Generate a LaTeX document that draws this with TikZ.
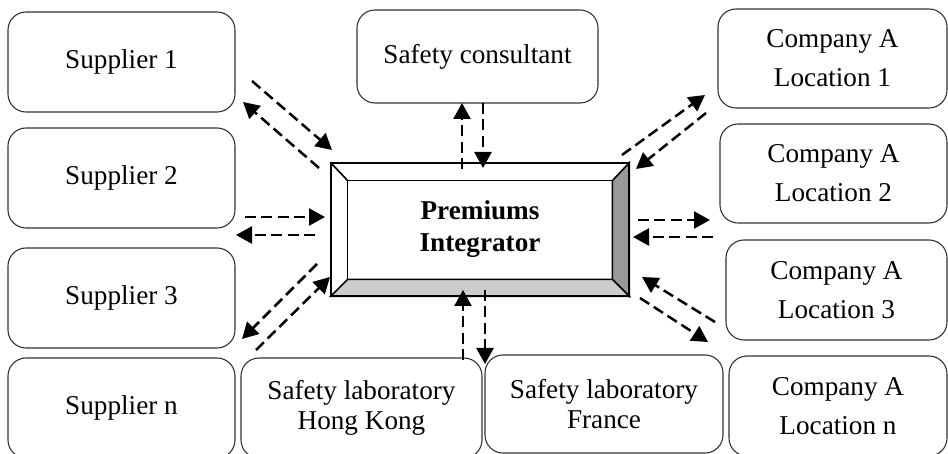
\documentclass[tikz,border=0pt]{standalone}
\usepackage{fontspec}
\setmainfont{Liberation Serif}
\usetikzlibrary{arrows.meta}
\definecolor{bevelright}{HTML}{999999}
\definecolor{bevelbottom}{HTML}{CCCCCC}
\begin{document}
\begin{tikzpicture}[x=0.5pt,y=-0.5pt]

    \tikzset{
      party/.style={
        draw=black!80,
        line width=0.55pt,
        rounded corners=9pt,
        align=center,
        inner sep=0pt,
        font=\fontsize{13.6}{15}\selectfont,
      },
      flow/.style={
        color={black},
        line width=1.25pt,
        dash pattern=on 5.5pt off 2.7pt,
        -{Triangle[length=8pt,width=8.5pt]},
      },
    }
    \useasboundingbox (0,0) rectangle (948,454);
    \clip (0,0) rectangle (948,454);

	\node[party,minimum width=113.5pt,minimum height=50pt] (sup1) at (121.5,62) {Supplier 1};
	\node[party,minimum width=113.5pt,minimum height=50pt] (sup2) at (121.5,178) {Supplier 2};
	\node[party,minimum width=113.5pt,minimum height=50pt] (sup3) at (121.5,298) {Supplier 3};
	\node[party,minimum width=113.5pt,minimum height=50pt] (supn) at (121.5,408) {Supplier n};
	\node[party,minimum width=120.5pt,minimum height=50pt] (labhk) at (361.5,408) {Safety laboratory\\Hong Kong};
	\node[party,minimum width=119pt,minimum height=49pt] (labfr) at (604,404) {Safety laboratory\\France};
	\node[party,minimum width=120.5pt,minimum height=46.5pt] (cons) at (477.5,56.5) {Safety consultant};
	\node[party,minimum width=114.5pt,minimum height=49.5pt] (loc1) at (832.5,58.5) {Company A\\[4.5pt]Location 1};
	\node[party,minimum width=113.5pt,minimum height=49.5pt] (loc2) at (833.5,173.5) {Company A\\[4.5pt]Location 2};
	\node[party,minimum width=110.5pt,minimum height=50pt] (loc3) at (836.5,290) {Company A\\[4.5pt]Location 3};
	\node[party,minimum width=109pt,minimum height=50pt] (locn) at (838,406) {Company A\\[4.5pt]Location n};

	\node[minimum width=149pt,minimum height=66.5pt,inner sep=0pt] (pi) at (480,229.5) {};
	\node[minimum width=132pt,minimum height=49pt,inner sep=0pt] (piin) at (480,230) {};
	\filldraw[fill=bevelright,line width=0.8pt] (pi.north east)--(pi.south east)--(piin.south east)--(piin.north east)--cycle;
	\filldraw[fill=bevelbottom,line width=0.8pt] (pi.south west)--(pi.south east)--(piin.south east)--(piin.south west)--cycle;
	\draw[line width=0.8pt] (pi.north west)--(piin.north west);
	\draw[line width=0.8pt] (piin.north west) rectangle (piin.south east);
	\draw[line width=1pt] (pi.north west) rectangle (pi.south east);
	\node[font=\bfseries\fontsize{13.6}{16}\selectfont,align=center] (pitext) at (480,229) {Premiums\\Integrator};

	\coordinate (s1a) at (252,81);
	\coordinate (s1b) at (332,150);
	\coordinate (s1c) at (319,168);
	\coordinate (s1d) at (243,102);
	\coordinate (s2a) at (245,217);
	\coordinate (s2b) at (325,217);
	\coordinate (s2c) at (315,235);
	\coordinate (s2d) at (236,235);
	\coordinate (s3a) at (256,350);
	\coordinate (s3b) at (330,277);
	\coordinate (s3c) at (317,264);
	\coordinate (s3d) at (242,339);
	\coordinate (cna) at (462,169);
	\coordinate (cnb) at (462,103);
	\coordinate (cnc) at (483,103);
	\coordinate (cnd) at (483,168);
	\coordinate (hka) at (463,360);
	\coordinate (hkb) at (463,290);
	\coordinate (fra) at (485,290);
	\coordinate (frb) at (485,364);
	\coordinate (l1a) at (622,155);
	\coordinate (l1b) at (705,95);
	\coordinate (l1c) at (706,113);
	\coordinate (l1d) at (636,169);
	\coordinate (l2a) at (638,220);
	\coordinate (l2b) at (710,220);
	\coordinate (l2c) at (713,237);
	\coordinate (l2d) at (633,237);
	\coordinate (l3a) at (715,322);
	\coordinate (l3b) at (642,277);
	\coordinate (l3c) at (640,298);
	\coordinate (l3d) at (708,342);

	\draw[flow] (s1a)--(s1b);
	\draw[flow] (s1c)--(s1d);
	\draw[flow] (s2a)--(s2b);
	\draw[flow] (s2c)--(s2d);
	\draw[flow] (s3a)--(s3b);
	\draw[flow] (s3c)--(s3d);
	\draw[flow] (cna)--(cnb);
	\draw[flow] (cnc)--(cnd);
	\draw[flow] (hka)--(hkb);
	\draw[flow] (fra)--(frb);
	\draw[flow] (l1a)--(l1b);
	\draw[flow] (l1c)--(l1d);
	\draw[flow] (l2a)--(l2b);
	\draw[flow] (l2c)--(l2d);
	\draw[flow] (l3a)--(l3b);
	\draw[flow] (l3c)--(l3d);

\end{tikzpicture}
\end{document}
